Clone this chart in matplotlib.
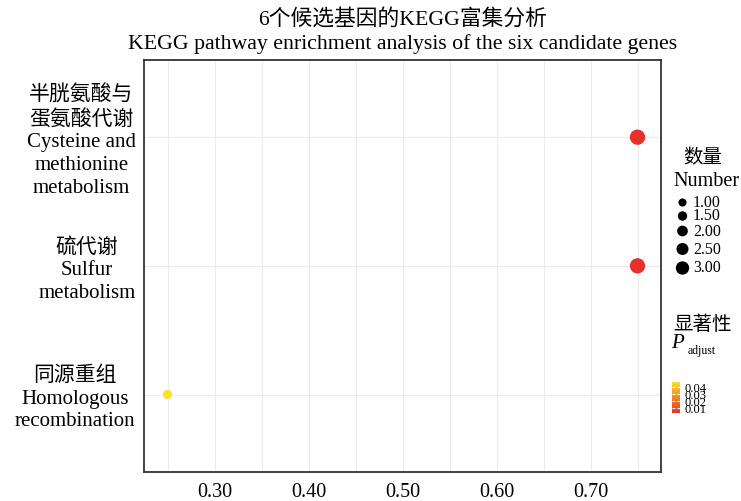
import matplotlib
matplotlib.use("Agg")
import matplotlib.pyplot as plt
from matplotlib.colors import LinearSegmentedColormap, Normalize
import numpy as np

plt.rcParams['font.family'] = ['Liberation Serif', 'Noto Sans CJK SC', 'DejaVu Sans']

# ---- data -------------------------------------------------------------
pathways = [
    "半胱氨酸与\n蛋氨酸代谢\nCysteine and\nmethionine\nmetabolism",
    "硫代谢\nSulfur\nmetabolism",
    "同源重组\nHomologous\nrecombination",
]
gene_ratio = [0.75, 0.75, 0.25]
gene_count = [3, 3, 1]
p_adjust = [0.003, 0.003, 0.0476]

x_ticks = [0.30, 0.40, 0.50, 0.60, 0.70]
size_breaks = [1.00, 1.50, 2.00, 2.50, 3.00]
p_ticks = [0.01, 0.02, 0.03, 0.04]

title_cn = "6个候选基因的KEGG富集分析"
title_en = "KEGG pathway enrichment analysis of the six candidate genes"

# ---- figure -----------------------------------------------------------
W, H, DPI = 741, 501, 100
fig = plt.figure(figsize=(W / DPI, H / DPI), dpi=DPI)

def px_box(x0, y0, x1, y1):
    return [x0 / W, 1 - y1 / H, (x1 - x0) / W, (y1 - y0) / H]

ax = fig.add_axes(px_box(144, 60, 661, 471.7))

cmap = LinearSegmentedColormap.from_list(
    "p_adj", ["#E6302A", "#EE6A28", "#F4A42A", "#F7E32C"])
norm = Normalize(vmin=min(p_adjust), vmax=max(p_adjust))

def diameter_px(n):
    return 9.3 + 3.0 * (n - 1)

def marker_area(n, scale=1.0):
    d_pt = diameter_px(n) * scale * 72 / DPI
    return d_pt ** 2

y_pos = np.arange(len(pathways))[::-1] + 1
sizes = [marker_area(n) for n in gene_count]
sc = ax.scatter(gene_ratio, y_pos, s=sizes, c=p_adjust, cmap=cmap, norm=norm,
                edgecolors='none', zorder=3)

ax.set_xlim(0.225, 0.775)
ax.set_ylim(0.4, len(pathways) + 0.6)
ax.set_xticks(x_ticks)
ax.set_xticklabels([f"{v:.2f}" for v in x_ticks], fontsize=14.5)
ax.set_xticks([v + 0.05 for v in x_ticks[:-1]] + [0.25, 0.75], minor=True)
ax.set_yticks(y_pos)
ax.set_yticklabels(pathways, fontsize=15, linespacing=1.27,
                   multialignment='center')
ax.tick_params(axis='both', which='both', length=0)
ax.tick_params(axis='x', pad=8)
ax.tick_params(axis='y', pad=6)
ax.grid(True, which='both', color='#EBEBEB', linewidth=0.8, zorder=0)
ax.set_axisbelow(True)
for sp in ax.spines.values():
    sp.set_color('#333333')
    sp.set_linewidth(1.3)

# ---- titles -----------------------------------------------------------
cx = (144 + 661) / 2 / W
fig.text(cx, 1 - 19 / H, title_cn, ha='center', va='center', fontsize=15.7)
fig.text(cx, 1 - 44 / H, title_en, ha='center', va='center', fontsize=15.7)

# ---- size legend (drawn in pixel coordinates) -------------------------
lg = fig.add_axes([0, 0, 1, 1], zorder=5)
lg.set_xlim(0, W)
lg.set_ylim(H, 0)
lg.axis('off')
lg.patch.set_alpha(0)

lg.text(703, 158, "数量", ha='center', va='center', fontsize=14)
lg.text(706, 182, "Number", ha='center', va='center', fontsize=14.5)
key_y = [202.5, 216, 231, 249, 268]
for b, yk in zip(size_breaks, key_y):
    lg.scatter([682.5], [yk], s=marker_area(b, 0.87), color='black',
               edgecolors='none')
    lg.text(693, yk + 0.5, f"{b:.2f}", ha='left', va='center', fontsize=11.5)

# ---- colour legend ----------------------------------------------------
lg.text(702, 325, "显著性", ha='center', va='center', fontsize=14)
lg.text(677, 344, "P", ha='center', va='center', fontsize=15, style='italic')
lg.text(688, 351, "adjust", ha='left', va='center', fontsize=8.5)

cax = fig.add_axes(px_box(671.7, 381.7, 680, 413))
cb = fig.colorbar(sc, cax=cax, ticks=p_ticks)
cb.outline.set_visible(False)
cax.set_yticklabels([f"{v:.2f}" for v in p_ticks], fontsize=9)
cax.tick_params(axis='y', direction='in', colors='white', length=2,
                width=0.8, left=True, right=True, pad=3,
                labelcolor='black')

fig.savefig("out.png", dpi=DPI, facecolor='white')
